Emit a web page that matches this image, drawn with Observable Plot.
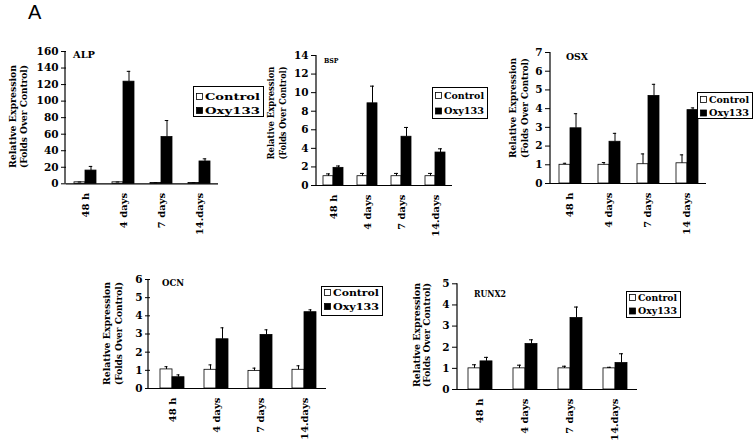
<!DOCTYPE html>
<html><head><meta charset="utf-8">
<script src="https://cdn.jsdelivr.net/npm/d3@7"></script>
<script src="https://cdn.jsdelivr.net/npm/@observablehq/plot@0.6"></script>
<style>
body{margin:0;background:#fff;}
#root{position:relative;width:756px;height:444px;overflow:hidden;background:#fff;}
.panel{position:absolute;}
.panel svg{overflow:visible;}
#A{position:absolute;left:28px;top:2px;font:20px "Liberation Sans",Arial,sans-serif;line-height:1;}
</style></head><body><div id="root"><div id="A">A</div></div>
<script>
// ---- data ----
const series = ["Control", "Oxy133"];
const timesDot = ["48 h", "4 days", "7 days", "14.days"];
const timesOSX = ["48 h", "4 days", "7 days", "14 days"];
const yTitle = ["Relative Expression", "(Folds Over Control)"];

const alpControl = [1.8, 1.8, 1.0, 1.0];
const alpControlErr = [0.3, 0.3, 0.3, 0.3];
const alpOxy = [16, 123.5, 56.5, 27];
const alpOxyErr = [5, 12.5, 20, 3.2];
const alpTicks = [0, 20, 40, 60, 80, 100, 120, 140, 160];

const bspControl = [1.0, 1.0, 1.0, 1.0];
const bspControlErr = [0.25, 0.3, 0.3, 0.3];
const bspOxy = [1.9, 8.85, 5.25, 3.55];
const bspOxyErr = [0.2, 1.85, 1.0, 0.4];
const bspTicks = [0, 2, 4, 6, 8, 10, 12, 14];

const osxControl = [1.0, 1.0, 1.03, 1.08];
const osxControlErr = [0.08, 0.12, 0.55, 0.45];
const osxOxy = [2.95, 2.23, 4.68, 3.92];
const osxOxyErr = [0.78, 0.45, 0.62, 0.12];
const osxTicks = [0, 1, 2, 3, 4, 5, 6, 7];

const ocnControl = [1.05, 1.03, 0.97, 1.03];
const ocnControlErr = [0.15, 0.27, 0.15, 0.22];
const ocnOxy = [0.62, 2.71, 2.95, 4.2];
const ocnOxyErr = [0.13, 0.63, 0.28, 0.13];
const ocnTicks = [0, 1, 2, 3, 4, 5, 6];

const runxControl = [1.0, 1.0, 1.0, 1.0];
const runxControlErr = [0.17, 0.15, 0.1, 0.05];
const runxOxy = [1.33, 2.15, 3.38, 1.25];
const runxOxyErr = [0.19, 0.2, 0.52, 0.44];
const runxTicks = [0, 1, 2, 3, 4, 5];

const panels = [
  {name: "ALP", times: timesDot, c: alpControl, ce: alpControlErr, o: alpOxy, oe: alpOxyErr, ticks: alpTicks},
  {name: "BSP", times: timesDot, c: bspControl, ce: bspControlErr, o: bspOxy, oe: bspOxyErr, ticks: bspTicks},
  {name: "OSX", times: timesOSX, c: osxControl, ce: osxControlErr, o: osxOxy, oe: osxOxyErr, ticks: osxTicks},
  {name: "OCN", times: timesDot, c: ocnControl, ce: ocnControlErr, o: ocnOxy, oe: ocnOxyErr, ticks: ocnTicks},
  {name: "RUNX2", times: timesDot, c: runxControl, ce: runxControlErr, o: runxOxy, oe: runxOxyErr, ticks: runxTicks}
];

// ---- layout (page pixels) ----
const layout = [
  {svg: [0, 40, 268, 205], frame: [65, 218, 51, 183.3], barW: 11.5,
   yt: {x: [13, 24], cy: 116.5, len: 103}, title: {x: 73, y: 57.5, len: 22, fs: 9.5},
   legend: {box: [193, 86, 263, 116], rows: [96.5, 110.5]}},
  {svg: [250, 40, 240, 205], frame: [316, 452, 55, 185], barW: 10,
   yt: {x: [271, 283], cy: 113, len: 93}, title: {x: 324, y: 63, len: 14.5, fs: 8},
   legend: {box: [432, 87, 487, 118], rows: [95.5, 111]}},
  {svg: [490, 40, 266, 205], frame: [550, 706, 52, 183], barW: 11.7,
   yt: {x: [513, 525], cy: 108, len: 100}, title: {x: 566, y: 59.5, len: 22, fs: 9.5},
   legend: {box: [697, 92, 752, 118], rows: [99.5, 113]}},
  {svg: [90, 260, 300, 184], frame: [148, 327, 279, 388], barW: 13,
   yt: {x: [107, 119], cy: 333.5, len: 103}, title: {x: 162, y: 286, len: 22, fs: 9},
   legend: {box: [321, 286, 382, 315], rows: [292.5, 306.5]}},
  {svg: [400, 260, 300, 184], frame: [457, 637, 283.3, 389], barW: 12,
   yt: {x: [417, 427], cy: 335, len: 104}, title: {x: 474, y: 297, len: 32, fs: 9},
   legend: {box: [626, 291, 680, 317], rows: [297.5, 311]}}
];

const FONT = "'DejaVu Serif', serif";
const root = document.getElementById("root");

panels.forEach((p, k) => {
  const L = layout[k];
  const [sl, st, sw, sh] = L.svg;
  const [fl, fr, ft, fb] = L.frame;
  const data = [];
  p.times.forEach((t, i) => {
    data.push({time: t, series: series[0], v: p.c[i], e: p.ce[i]});
    data.push({time: t, series: series[1], v: p.o[i], e: p.oe[i]});
  });
  const step = (fr - fl) / p.times.length;
  const po = (step / L.barW - 2) / 2;
  const capInset = (L.barW - 4) / 2;
  const ymax = p.ticks[p.ticks.length - 1];

  const plot = Plot.plot({
    width: sw, height: sh,
    marginLeft: fl - sl, marginRight: sl + sw - fr,
    marginTop: ft - st, marginBottom: st + sh - fb,
    style: {fontFamily: FONT, fontWeight: "bold", color: "black", background: "transparent", overflow: "visible"},
    fx: {domain: p.times, padding: 0, label: null, axis: null},
    x: {domain: series, axis: null, paddingInner: 0, paddingOuter: po},
    y: {domain: [0, ymax], axis: null},
    color: {domain: series, range: ["white", "black"]},
    marks: [
      Plot.axisY({ticks: p.ticks, tickSize: 5, tickPadding: 3, fontSize: 10.5, fontWeight: "bold", label: null, tickFormat: d => String(d)}),
      Plot.axisFx({anchor: "bottom", tickSize: 0, tickPadding: 9, tickRotate: -90, fontSize: 10, fontWeight: "bold", label: null}),
      Plot.barY(data, {fx: "time", x: "series", y: "v", fill: "series", stroke: "black", strokeWidth: 0.8}),
      Plot.ruleX(data, {fx: "time", x: "series", y1: "v", y2: d => d.v + d.e, stroke: "black", strokeWidth: 1}),
      Plot.tickY(data, {fx: "time", x: "series", y: d => d.v + d.e, stroke: "black", strokeWidth: 1, insetLeft: capInset, insetRight: capInset}),
      Plot.ruleY([0], {stroke: "black", strokeWidth: 1.2})
    ]
  });

  const div = document.createElement("div");
  div.className = "panel";
  div.style.left = sl + "px";
  div.style.top = st + "px";
  div.appendChild(plot);
  root.appendChild(div);

  const svg = d3.select(plot.tagName.toLowerCase() === "svg" ? plot : plot.querySelector("svg"));
  const ys = plot.scale("y");
  const lx = fl - sl;
  // y axis line
  svg.append("line").attr("x1", lx).attr("x2", lx)
    .attr("y1", ys.apply(0)).attr("y2", ys.apply(ymax))
    .attr("stroke", "black").attr("stroke-width", 1.2);

  // y axis title (two rotated lines)
  yTitle.forEach((line, j) => {
    svg.append("text")
      .attr("transform", `translate(${L.yt.x[j] - sl},${L.yt.cy - st}) rotate(-90)`)
      .attr("text-anchor", "middle").attr("dy", "0.35em")
      .attr("font-family", FONT).attr("font-weight", "bold").attr("font-size", 8.5)
      .attr("textLength", L.yt.len).attr("lengthAdjust", "spacingAndGlyphs")
      .attr("fill", "black").text(line);
  });

  // panel title
  svg.append("text")
    .attr("x", L.title.x - sl).attr("y", L.title.y - st)
    .attr("text-anchor", "start")
    .attr("font-family", FONT).attr("font-weight", "bold").attr("font-size", L.title.fs)
    .attr("textLength", L.title.len).attr("lengthAdjust", "spacingAndGlyphs")
    .attr("fill", "black").text(p.name);

  // legend
  const [bx0, by0, bx1, by1] = L.legend.box;
  const lg = svg.append("g").attr("text-anchor", "start");
  lg.append("rect").attr("x", bx0 - sl + 0.5).attr("y", by0 - st + 0.5)
    .attr("width", bx1 - bx0).attr("height", by1 - by0)
    .attr("fill", "white").attr("stroke", "black").attr("stroke-width", 1);
  series.forEach((s, j) => {
    const cy = L.legend.rows[j] - st;
    lg.append("rect").attr("x", bx0 - sl + 3.5).attr("y", cy - 3)
      .attr("width", 6).attr("height", 6)
      .attr("fill", j === 0 ? "white" : "black").attr("stroke", "black").attr("stroke-width", 0.8);
    lg.append("text").attr("x", bx0 - sl + 12).attr("y", cy).attr("dy", "0.35em")
      .attr("text-anchor", "start")
      .attr("font-family", FONT).attr("font-weight", "bold").attr("font-size", 9.5)
      .attr("textLength", (bx1 - bx0) - 15).attr("lengthAdjust", "spacingAndGlyphs")
      .attr("fill", "black").text(s);
  });
});
</script>
</body></html>
